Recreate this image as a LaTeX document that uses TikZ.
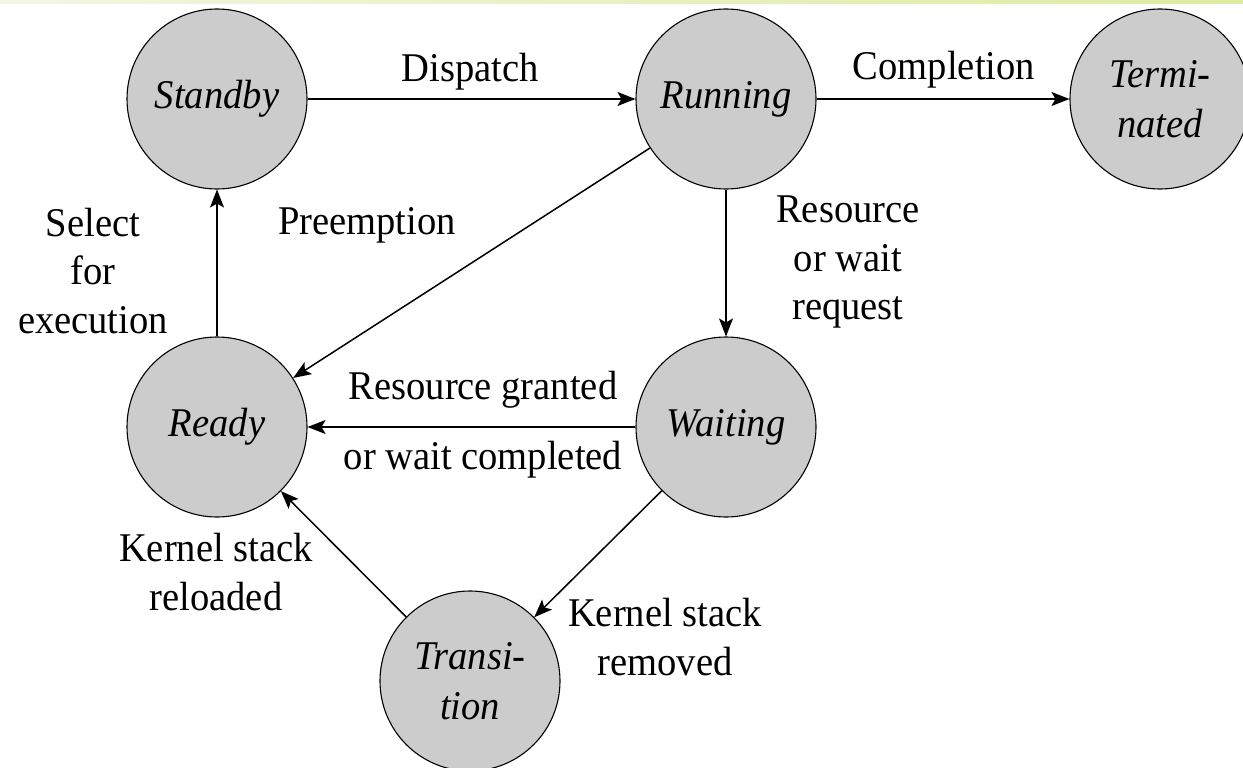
\documentclass[tikz,border=0pt]{standalone}
\usepackage{fontspec}
\setmainfont{Liberation Serif}[FakeStretch=0.945]
\usetikzlibrary{arrows.meta}
\definecolor{stategray}{RGB}{204,204,204}
\definecolor{stripleft}{RGB}{242,246,226}
\definecolor{stripright}{RGB}{220,236,160}
\tikzset{
  state/.style={circle, draw=black, line width=1.1pt, fill=stategray,
    minimum size=180pt, inner sep=0pt, align=center,
    font=\fontsize{40.8}{50}\selectfont\itshape},
  lbl/.style={inner sep=0pt, align=center,
    font=\fontsize{40.8}{48.5}\selectfont},
  arr/.style={line width=1.5pt, -{Stealth[length=18pt, width=14pt, inset=4pt]}}
}
\begin{document}
\begin{tikzpicture}[x=1pt, y=-1pt]
\useasboundingbox (0,0) rectangle (1243,768);
\fill[left color=stripleft, right color=stripright] (0,0) rectangle (1243,4);
% states
\node[state] (standby) at (217,99) {Standby};
\node[state] (running) at (726,99) {Running};
\node[state] (terminated) at (1160,99) {Termi-\\nated};
\node[state] (ready) at (217,427) {Ready};
\node[state] (waiting) at (726,427) {Waiting};
\node[state] (transition) at (470,681) {Transi-\\tion};
% connectors
\draw[arr] (standby) -- (running);
\draw[arr] (running) -- (terminated);
\draw[arr] (running) -- (waiting);
\draw[arr] (running) -- (ready);
\draw[arr] (waiting) -- (ready);
\draw[arr] (ready) -- (standby);
\draw[arr] (waiting) -- (transition);
\draw[arr] (transition) -- (ready);
% labels
\node[lbl] (ldispatch) at (470,72) {Dispatch};
\node[lbl] (lcompletion) at (944,70) {Completion};
\node[lbl] (lselect) at (93,271) {Select\\for\\execution};
\node[lbl] (lpreempt) at (367,225) {Preemption};
\node[lbl] (lrequest) at (848,262) {Resource\\or wait\\request};
\node[lbl] (lgranted) at (483,390) {Resource granted};
\node[lbl] (lcompleted) at (483,460) {or wait completed};
\node[lbl] (lreloaded) at (216,572) {Kernel stack\\reloaded};
\node[lbl] (lremoved) at (665,637) {Kernel stack\\removed};
\end{tikzpicture}
\end{document}
